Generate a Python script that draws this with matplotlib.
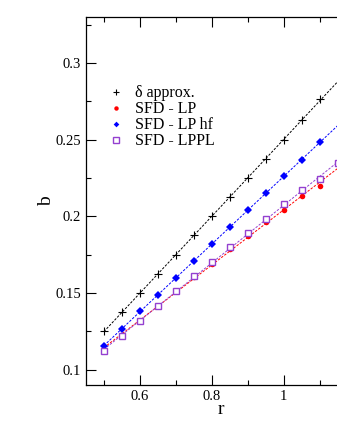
import numpy as np
import matplotlib.pyplot as plt
from matplotlib.ticker import MultipleLocator

plt.rcParams['font.family'] = ['Liberation Serif', 'DejaVu Serif']

# data
r = [0.5, 0.55, 0.6, 0.65, 0.7, 0.75, 0.8, 0.85, 0.9, 0.95, 1.0, 1.05, 1.1]
b_delta = [0.125, 0.1375, 0.150, 0.1625, 0.175, 0.1875, 0.200, 0.2125, 0.225, 0.2375, 0.250, 0.2625, 0.2765]
b_lp = [0.113, 0.1225, 0.132, 0.1415, 0.151, 0.1605, 0.169, 0.1785, 0.187, 0.1965, 0.204, 0.2135, 0.2196]
b_lphf = [0.1155, 0.1265, 0.138, 0.149, 0.160, 0.171, 0.182, 0.193, 0.204, 0.215, 0.226, 0.237, 0.2485]
r_lppl = [0.5, 0.55, 0.6, 0.65, 0.7, 0.75, 0.8, 0.85, 0.9, 0.95, 1.0, 1.05, 1.1, 1.15]
b_lppl = [0.112, 0.122, 0.132, 0.1415, 0.151, 0.161, 0.1705, 0.180, 0.189, 0.198, 0.208, 0.217, 0.2246, 0.2345]

purple = '#9440D0'

fig = plt.figure(figsize=(3.37, 4.36), dpi=100)
ax = fig.add_axes([0.255, 0.117, 0.801, 0.844])

xx = np.linspace(0.5, 1.2, 50)
series = [
    (r, b_delta, 'k', dict(marker='+', ms=6, mew=0.8, ls='none'), 'δ approx.'),
    (r, b_lp, 'red', dict(marker='o', ms=4, mew=0, ls='none'), 'SFD - LP'),
    (r, b_lphf, 'blue', dict(marker='D', ms=3.6, mew=0, ls='none'), 'SFD - LP hf'),
    (r_lppl, b_lppl, purple, dict(marker='s', ms=5, mfc='white', mew=1.0, ls='none'), 'SFD - LPPL'),
]
# dashed linear fits
for x, y, c, kw, lab in series:
    p = np.polyfit(x, y, 1)
    ax.plot(xx, np.polyval(p, xx), color=c, ls=(0, (2.5, 1.5)), lw=0.7)
for x, y, c, kw, lab in series:
    ax.plot(x, y, color=c, mec=c, label=lab, **kw)

ax.set_xlim(0.45, 1.2)
ax.set_ylim(0.09, 0.33)
ax.xaxis.set_minor_locator(MultipleLocator(0.1))
ax.yaxis.set_minor_locator(MultipleLocator(0.025))
ax.set_xticks([0.6, 0.8, 1.0])
ax.set_xticklabels(['0.6', '0.8', '1'])
ax.set_yticks([0.1, 0.15, 0.2, 0.25, 0.3])
ax.set_yticklabels(['0.1', '0.15', '0.2', '0.25', '0.3'])
ax.tick_params(which='both', direction='in', top=True, labelsize=10.5, width=0.8)
ax.tick_params(which='major', length=7)
ax.tick_params(which='minor', length=3.5)
for s in ax.spines.values():
    s.set_linewidth(0.9)

ax.set_xlabel('r', fontsize=14, labelpad=-1)
ax.set_ylabel('b', fontsize=14, labelpad=0)

leg = ax.legend(loc='upper left', bbox_to_anchor=(0.045, 0.836), frameon=False,
                fontsize=11.5, handlelength=1.2, handletextpad=0.6, labelspacing=0.0,
                borderpad=0, markerscale=0.8)

fig.savefig('out.png', dpi=100)
